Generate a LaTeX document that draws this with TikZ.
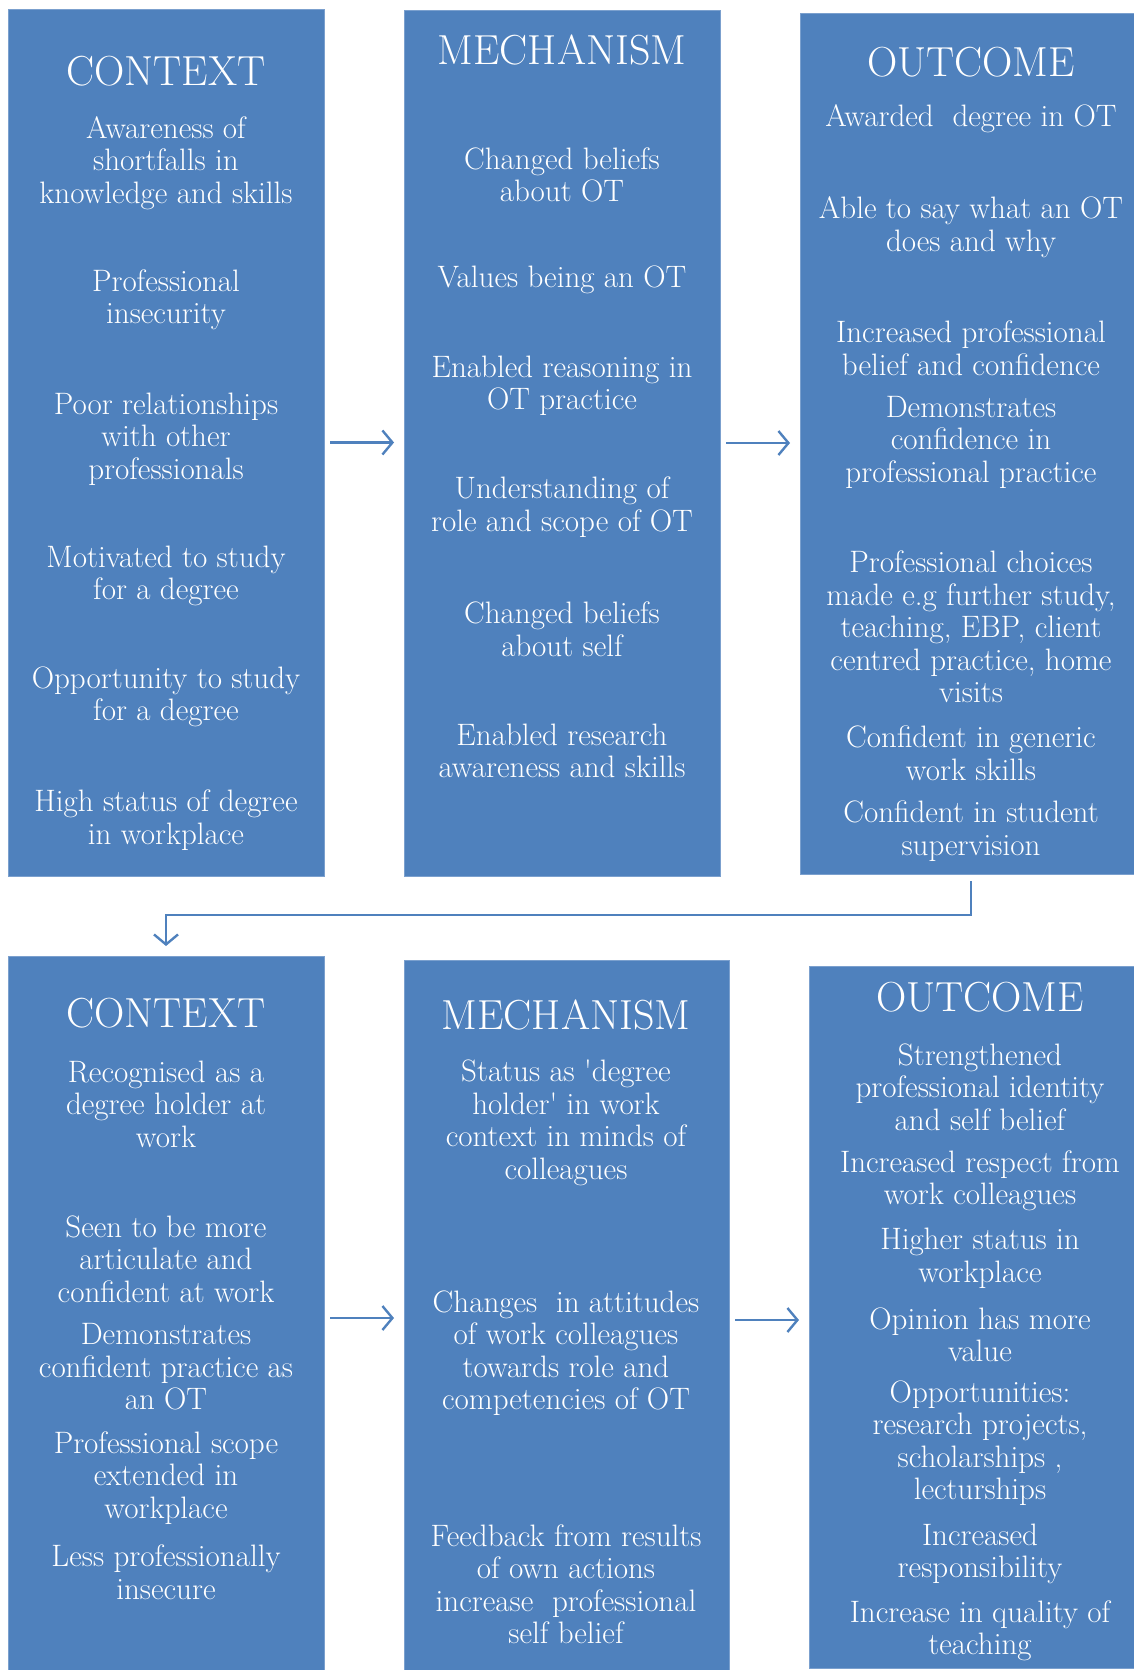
\documentclass[tikz,border=0pt]{standalone}
\usepackage{fontspec}
\usepackage{tikz}
\usetikzlibrary{arrows.meta}
\definecolor{panelblue}{HTML}{4F81BD}
\definecolor{paneledge}{HTML}{7BA0CE}
\tikzset{
    panel/.style={
        fill=panelblue,
        draw=paneledge,
        line width=0.8pt,
        inner sep=0pt,
        outer sep=0pt,
        anchor=north west
    },
    txt/.style={
        text=white,
        align=center,
        inner sep=0pt,
        yshift=-2pt,
        font=\fontsize{31}{32.5}\selectfont\addfontfeatures{FakeBold=0.6}
    },
    head/.style={
        txt,
        font=\fontsize{42}{44}\selectfont\addfontfeatures{FakeBold=0.6}
    },
    flow/.style={
        draw=panelblue,
        line width=2.4pt,
        -{Straight Barb[length=10pt,width=24pt]},
        shorten <=6pt,
        shorten >=10pt
    }
}

\begin{document}
\begin{tikzpicture}[x=1pt, y=-1pt]
\useasboundingbox (0,0) rectangle (1133,1670);

\node[panel, minimum width=316pt, minimum height=867pt] (ctxa) at (8,9) {};
\node[panel, minimum width=316pt, minimum height=866pt] (mecha) at (404,10) {};
\node[panel, minimum width=342pt, minimum height=861pt] (outa) at (800,13) {};
\node[panel, minimum width=316pt, minimum height=724pt] (ctxb) at (8,956) {};
\node[panel, minimum width=325pt, minimum height=720pt] (mechb) at (404,960) {};
\node[panel, minimum width=342pt, minimum height=702pt] (outb) at (809,966) {};

\node[head] (ctxaT) at (166,69) {CONTEXT};
\node[txt] (ctxa1) at (166,161) {Awareness of\\shortfalls in\\knowledge and skills};
\node[txt] (ctxa2) at (166,298) {Professional\\insecurity};
\node[txt] (ctxa3) at (166,437) {Poor relationships\\with other\\professionals};
\node[txt] (ctxa4) at (166,574) {Motivated to study\\for a degree};
\node[txt] (ctxa5) at (166,695) {Opportunity to study\\for a degree};
\node[txt] (ctxa6) at (166,818) {High status of degree\\in workplace};

\node[head] (mechaT) at (562,48) {MECHANISM};
\node[txt] (mecha1) at (562,173) {Changed beliefs\\about OT};
\node[txt] (mecha2) at (562,278) {Values being an OT};
\node[txt] (mecha3) at (562,384) {Enabled reasoning in\\OT practice};
\node[txt] (mecha4) at (562,505) {Understanding of\\role and scope of OT};
\node[txt] (mecha5) at (562,627) {Changed beliefs\\about self};
\node[txt] (mecha6) at (562,749) {Enabled research\\awareness and skills};

\node[head] (outaT) at (971,60) {OUTCOME};
\node[txt] (outa1) at (971,117) {Awarded~ degree in OT};
\node[txt] (outa2) at (971,225) {Able to say what an OT\\does and why};
\node[txt] (outa3) at (971,346) {Increased professional\\belief and confidence};
\node[txt] (outa4) at (971,440) {Demonstrates\\confidence in\\professional practice};
\node[txt] (outa5) at (971,625) {Professional choices\\made e.g further study,\\teaching, EBP, client\\centred practice, home\\visits};
\node[txt] (outa6) at (971,751) {Confident in generic\\work skills};
\node[txt] (outa7) at (971,829) {Confident in student\\supervision};

\node[head] (ctxbT) at (166,1011) {CONTEXT};
\node[txt] (ctxb1) at (166,1102) {Recognised as a\\degree holder at\\work};
\node[txt] (ctxb2) at (166,1257) {Seen to be more\\articulate and\\confident at work};
\node[txt] (ctxb3) at (166,1365) {Demonstrates\\confident practice as\\an OT};
\node[txt] (ctxb4) at (166,1476) {Professional scope\\extended in\\workplace};
\node[txt] (ctxb5) at (166,1570) {Less professionally\\insecure};

\node[head] (mechbT) at (566,1013) {MECHANISM};
\node[txt] (mechb1) at (566,1121) {Status as \textquotesingle degree\\holder\textquotesingle\ in work\\context in minds of\\colleagues};
\node[txt] (mechb2) at (566,1351) {Changes~ in attitudes\\of work colleagues\\towards role and\\competencies of OT};
\node[txt] (mechb3) at (566,1582) {Feedback from results\\of own actions\\increase~ professional\\self belief};

\node[head] (outbT) at (980,995) {OUTCOME};
\node[txt] (outb1) at (980,1085) {Strengthened\\professional identity\\and self belief};
\node[txt] (outb2) at (980,1179) {Increased respect from\\work colleagues};
\node[txt] (outb3) at (980,1256) {Higher status in\\workplace};
\node[txt] (outb4) at (980,1333) {Opinion has more\\value};
\node[txt] (outb5) at (980,1441) {Opportunities:\\research projects,\\scholarships ,\\lecturships};
\node[txt] (outb6) at (980,1552) {Increased\\responsibility};
\node[txt] (outb7) at (980,1629) {Increase in quality of\\teaching};

\draw[flow] (ctxa.east) -- (ctxa.east -| mecha.west);
\draw[flow] (mecha.east) -- (mecha.east -| outa.west);
\draw[flow] (ctxb.east) -- (ctxb.east -| mechb.west);
\draw[flow] (mechb.east) -- (mechb.east -| outb.west);

\coordinate (turn) at (0,915);
\draw[flow, shorten <=7pt] (outa.south) -- (outa.south |- turn) -- (ctxb.north |- turn) -- (ctxb.north);
\end{tikzpicture}
\end{document}
